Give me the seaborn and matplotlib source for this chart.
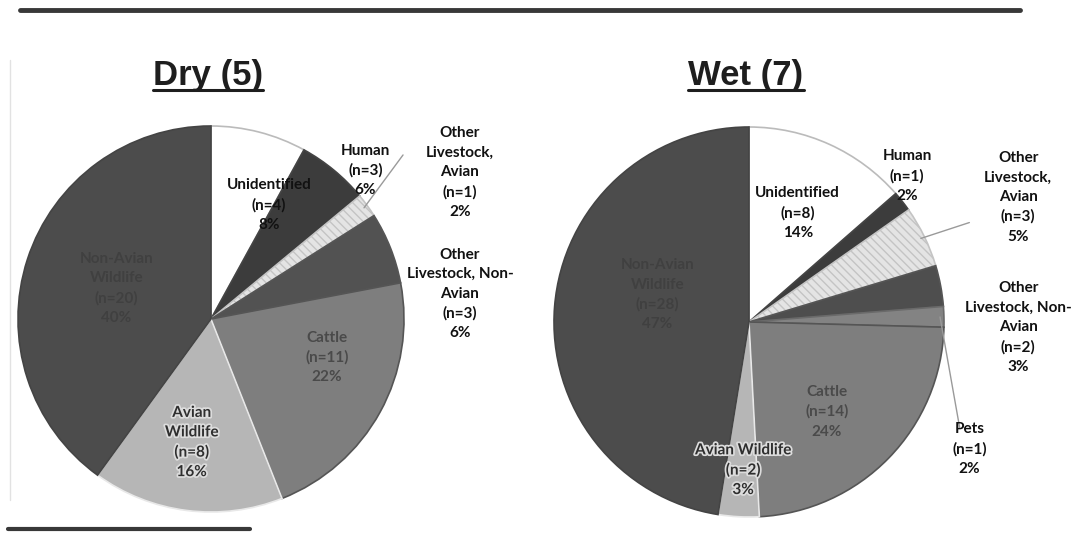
import numpy as np
import pandas as pd
import matplotlib
matplotlib.use('Agg')
import matplotlib.pyplot as plt
import matplotlib.patheffects as pe
from matplotlib.lines import Line2D
import seaborn as sns

# data
dry_labels = ['Unidentified', 'Human', 'Other\nLivestock,\nAvian',
              'Other\nLivestock, Non-\nAvian', 'Cattle', 'Avian\nWildlife',
              'Non-Avian\nWildlife']
dry_n = [4, 3, 1, 3, 11, 8, 20]
dry_pct = [8, 6, 2, 6, 22, 16, 40]

wet_labels = ['Unidentified', 'Human', 'Other\nLivestock,\nAvian',
              'Other\nLivestock, Non-\nAvian', 'Pets', 'Cattle',
              'Avian Wildlife', 'Non-Avian\nWildlife']
wet_n = [8, 1, 3, 2, 1, 14, 2, 28]
wet_pct = [14, 2, 5, 3, 2, 24, 3, 47]

titles = ['Dry (5)', 'Wet (7)']

sns.set_theme(style='white')
plt.rcParams['font.family'] = ['Lato', 'DejaVu Sans']

W, H = 1087, 533
fig = plt.figure(figsize=(W / 100, H / 100), dpi=100)
fig.patch.set_facecolor('white')

# styles
dry_colors = ['#ffffff', '#3c3c3c', '#e4e4e4', '#525252', '#7e7e7e', '#b6b6b6', '#4c4c4c']
wet_colors = ['#ffffff', '#3c3c3c', '#e4e4e4', '#4e4e4e', '#838383', '#7e7e7e', '#b6b6b6', '#4c4c4c']
dry_edges = ['#bbbbbb', '#444444', '#c4c4c4', '#555555', '#555555', '#e8e8e8', '#444444']
wet_edges = ['#bbbbbb', '#444444', '#c4c4c4', '#555555', '#6a6a6a', '#555555', '#e8e8e8', '#444444']
dry_txt_xy = [(0.30, 0.59), (0.80, 0.77), (1.29, 0.76), (1.29, 0.13),
              (0.60, -0.20), (-0.10, -0.64), (-0.49, 0.16)]
wet_txt_xy = [(0.25, 0.56), (0.81, 0.75), (1.38, 0.64), (1.38, -0.03),
              (1.13, -0.65), (0.40, -0.46), (-0.03, -0.76), (-0.47, 0.14)]
dry_txt_col = ['#111111', '#111111', '#111111', '#111111', '#4a4a4a', '#2e2e2e', '#404040']
wet_txt_col = ['#111111', '#111111', '#111111', '#111111', '#111111', '#4a4a4a', '#2e2e2e', '#404040']
dry_glow = [None, None, None, None, None, '#dcdcdc', None]
wet_glow = [None, None, None, None, None, None, '#dcdcdc', None]
dry_leaders = [(2, (0.995, 0.85))]
wet_leaders = [(2, (1.13, 0.51)), (4, (1.08, -0.54))]


def pie_axes(cx, cy, r):
    return fig.add_axes([(cx - r) / W, 1 - (cy + r) / H, 2 * r / W, 2 * r / H])


def draw_pie(ax, labels, n, pct, colors, edges, txt_xy, txt_col, glow, leaders):
    df = pd.DataFrame({'label': labels, 'n': n, 'pct': pct})
    wedges, _ = ax.pie(df['n'], colors=colors, startangle=90, counterclock=False,
                       radius=1, wedgeprops=dict(linewidth=1.2))
    for w, ec in zip(wedges, edges):
        w.set_edgecolor(ec)
    wedges[2].set_hatch('\\\\\\\\')
    ax.set_xlim(-1, 1)
    ax.set_ylim(-1, 1)
    ax.axis('off')
    for i, row in df.iterrows():
        s = f"{row['label']}\n(n={row['n']})\n{row['pct']}%"
        t = ax.text(*txt_xy[i], s, ha='center', va='center', fontsize=11,
                    fontweight='bold', color=txt_col[i], linespacing=1.5,
                    clip_on=False)
        if glow[i]:
            t.set_path_effects([pe.withStroke(linewidth=2.5, foreground=glow[i])])
    for idx, end in leaders:
        w = wedges[idx]
        th = np.deg2rad((w.theta1 + w.theta2) / 2)
        ax.plot([0.98 * np.cos(th), end[0]], [0.98 * np.sin(th), end[1]],
                color='#9a9a9a', lw=1, clip_on=False)


ax1 = pie_axes(211, 319, 193)
draw_pie(ax1, dry_labels, dry_n, dry_pct, dry_colors, dry_edges, dry_txt_xy,
         dry_txt_col, dry_glow, dry_leaders)
ax2 = pie_axes(749, 322, 195)
draw_pie(ax2, wet_labels, wet_n, wet_pct, wet_colors, wet_edges, wet_txt_xy,
         wet_txt_col, wet_glow, wet_leaders)

# underlined titles
fig.canvas.draw()
renderer = fig.canvas.get_renderer()
for title, cx in zip(titles, [208, 746]):
    t = fig.text(cx / W, 1 - 85 / H, title, ha='center', va='baseline',
                 fontsize=25, fontweight='bold', family='Liberation Sans',
                 color='#1e1e1e')
    bb = t.get_window_extent(renderer)
    fig.add_artist(Line2D([bb.x0 / W, bb.x1 / W], [1 - 90 / H] * 2,
                          transform=fig.transFigure, color='#1e1e1e', lw=2.2))

# scanned page rules
fig.add_artist(Line2D([20 / W, 1020 / W], [1 - 10 / H] * 2, transform=fig.transFigure,
                      color='#383838', lw=3.5, solid_capstyle='round'))
fig.add_artist(Line2D([8 / W, 250 / W], [1 - 529 / H] * 2, transform=fig.transFigure,
                      color='#383838', lw=3))
fig.add_artist(Line2D([10 / W, 10 / W], [1 - 60 / H, 1 - 500 / H], transform=fig.transFigure,
                      color='#e2e2e2', lw=1))

fig.savefig('out.png', dpi=100, facecolor='white')
